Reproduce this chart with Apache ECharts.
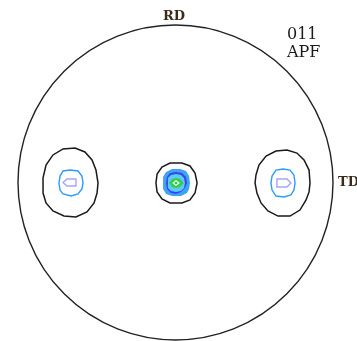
<!DOCTYPE html>
<html>
<head>
<meta charset="utf-8">
<script src="https://cdn.jsdelivr.net/npm/echarts@6/dist/echarts.min.js"></script>
<style>
  html, body { margin: 0; padding: 0; background: #fff; }
  #chart { width: 357px; height: 341px; }
</style>
</head>
<body>
<div id="chart"></div>
<script>
// 011 pole figure, stereographic projection on the unit disk (x = TD, y = RD)

// Contour polygons, each a list of [x, y] points in unit-disk coordinates
const leftOuter = [
  [-0.492, -0.003], [-0.505, 0.079], [-0.530, 0.143], [-0.575, 0.194], [-0.638, 0.219],
  [-0.714, 0.213], [-0.778, 0.175], [-0.822, 0.111], [-0.841, 0.029], [-0.841, -0.067],
  [-0.822, -0.130], [-0.778, -0.181], [-0.708, -0.213], [-0.632, -0.219], [-0.562, -0.187],
  [-0.517, -0.130], [-0.498, -0.067]
];
const rightOuter = [
  [0.854, -0.003], [0.848, 0.079], [0.816, 0.143], [0.771, 0.187], [0.708, 0.206],
  [0.638, 0.200], [0.575, 0.168], [0.530, 0.111], [0.511, 0.048], [0.505, -0.003],
  [0.517, -0.067], [0.543, -0.130], [0.587, -0.181], [0.651, -0.213], [0.727, -0.213],
  [0.790, -0.175], [0.829, -0.111], [0.848, -0.060]
];
const leftInner = [
  [-0.587, -0.003], [-0.594, 0.041], [-0.619, 0.073], [-0.670, 0.079], [-0.714, 0.073],
  [-0.733, 0.041], [-0.740, -0.003], [-0.733, -0.048], [-0.714, -0.073], [-0.663, -0.086],
  [-0.619, -0.073], [-0.594, -0.041]
];
const rightInner = [
  [0.759, -0.003], [0.752, 0.048], [0.727, 0.079], [0.683, 0.086], [0.638, 0.079],
  [0.613, 0.041], [0.606, -0.003], [0.613, -0.048], [0.638, -0.086], [0.689, -0.092],
  [0.733, -0.079], [0.752, -0.048]
];
const leftPeak = [
  [-0.714, 0.000], [-0.689, 0.022], [-0.632, 0.022], [-0.632, -0.022], [-0.689, -0.022]
];
const rightPeak = [
  [0.644, 0.022], [0.708, 0.022], [0.733, -0.003], [0.708, -0.029], [0.644, -0.029]
];
const centerOuter = [
  [0.137, -0.003], [0.124, 0.060], [0.092, 0.105], [0.041, 0.124], [-0.035, 0.124],
  [-0.086, 0.098], [-0.117, 0.054], [-0.124, -0.003], [-0.117, -0.060], [-0.086, -0.105],
  [-0.035, -0.130], [0.041, -0.130], [0.092, -0.111], [0.124, -0.067]
];
const centerL1 = [
  [0.092, -0.003], [0.086, 0.041], [0.067, 0.073], [0.029, 0.086], [-0.022, 0.086],
  [-0.060, 0.067], [-0.079, 0.035], [-0.079, -0.041], [-0.060, -0.073], [-0.022, -0.086],
  [0.035, -0.086], [0.073, -0.067], [0.086, -0.041]
];
const centerL2 = [
  [0.073, -0.003], [0.067, 0.035], [0.041, 0.060], [0.003, 0.067], [-0.035, 0.060],
  [-0.054, 0.035], [-0.060, -0.003], [-0.054, -0.041], [-0.029, -0.067], [0.003, -0.073],
  [0.035, -0.060], [0.060, -0.035]
];
const centerL3 = [
  [0.060, -0.003], [0.054, 0.029], [0.035, 0.048], [0.003, 0.054], [-0.029, 0.048],
  [-0.048, 0.029], [-0.048, -0.003], [-0.048, -0.035], [-0.029, -0.054], [0.003, -0.060],
  [0.035, -0.054], [0.054, -0.035]
];
const centerL4 = [
  [0.051, -0.003], [0.029, 0.022], [0.003, 0.029], [-0.022, 0.022], [-0.041, -0.003],
  [-0.022, -0.029], [0.003, -0.035], [0.029, -0.029]
];
const centerL5 = [
  [0.029, -0.003], [0.003, 0.016], [-0.022, -0.003], [0.003, -0.022]
];
const centerL6 = [
  [0.013, -0.003], [0.003, 0.006], [-0.006, -0.003], [0.003, -0.013]
];

// Axis / title labels
const rdLabel = 'RD';
const tdLabel = 'TD';
const planeLabel = '011';
const kindLabel = 'APF';

// Polygon series drawn through the cartesian scales
function contour(points, stroke, fill, width) {
  return {
    type: 'custom',
    coordinateSystem: 'cartesian2d',
    data: points,
    silent: true,
    animation: false,
    renderItem: function (params, api) {
      if (params.dataIndex !== 0) return;
      const pts = points.map(p => api.coord(p));
      return {
        type: 'polygon',
        shape: { points: pts, smooth: 0 },
        style: { fill: fill || 'none', stroke: stroke || 'none', lineWidth: width || 0 }
      };
    }
  };
}

// Projection boundary (unit circle)
const boundary = {
  type: 'custom',
  coordinateSystem: 'cartesian2d',
  data: [[0, 0]],
  silent: true,
  animation: false,
  renderItem: function (params, api) {
    const c = api.coord([0, 0]);
    const r = api.size([1, 1])[0];
    return {
      type: 'circle',
      shape: { cx: c[0], cy: c[1], r: r },
      style: { fill: 'none', stroke: '#222', lineWidth: 1.4 }
    };
  }
};

const chart = echarts.init(document.getElementById('chart'), null, { renderer: 'canvas' });
chart.setOption({
  backgroundColor: '#fff',
  animation: false,
  grid: { left: 18, top: 25, width: 315, height: 315 },
  xAxis: { type: 'value', min: -1, max: 1, show: false },
  yAxis: { type: 'value', min: -1, max: 1, show: false },
  series: [
    boundary,
    contour(leftOuter, '#1a1a1a', null, 1.5),
    contour(rightOuter, '#1a1a1a', null, 1.5),
    contour(leftInner, '#2a9bff', null, 1.4),
    contour(rightInner, '#2a9bff', null, 1.4),
    contour(leftPeak, '#a4a4ff', '#fff', 1.4),
    contour(rightPeak, '#a4a4ff', '#fff', 1.4),
    contour(centerOuter, '#1a1a1a', null, 1.5),
    contour(centerL1, null, '#3fa3f5'),
    contour(centerL2, null, '#3446ea'),
    contour(centerL3, null, '#5fc8fb'),
    contour(centerL4, null, '#2fcf4a'),
    contour(centerL5, null, '#e6fbe6'),
    contour(centerL6, null, '#17c23a')
  ],
  graphic: [
    { type: 'text', left: 163, top: 10, style: { text: rdLabel, font: 'bold 13px "DejaVu Serif", serif', fill: '#3a2a1a' } },
    { type: 'text', left: 338, top: 176, style: { text: tdLabel, font: 'bold 13px "DejaVu Serif", serif', fill: '#3a2a1a' } },
    { type: 'text', left: 287, top: 27, style: { text: planeLabel, font: '16px "DejaVu Serif", serif', fill: '#1a1a1a' } },
    { type: 'text', left: 287, top: 45, style: { text: kindLabel, font: '16px "DejaVu Serif", serif', fill: '#1a1a1a' } }
  ]
});
</script>
</body>
</html>
